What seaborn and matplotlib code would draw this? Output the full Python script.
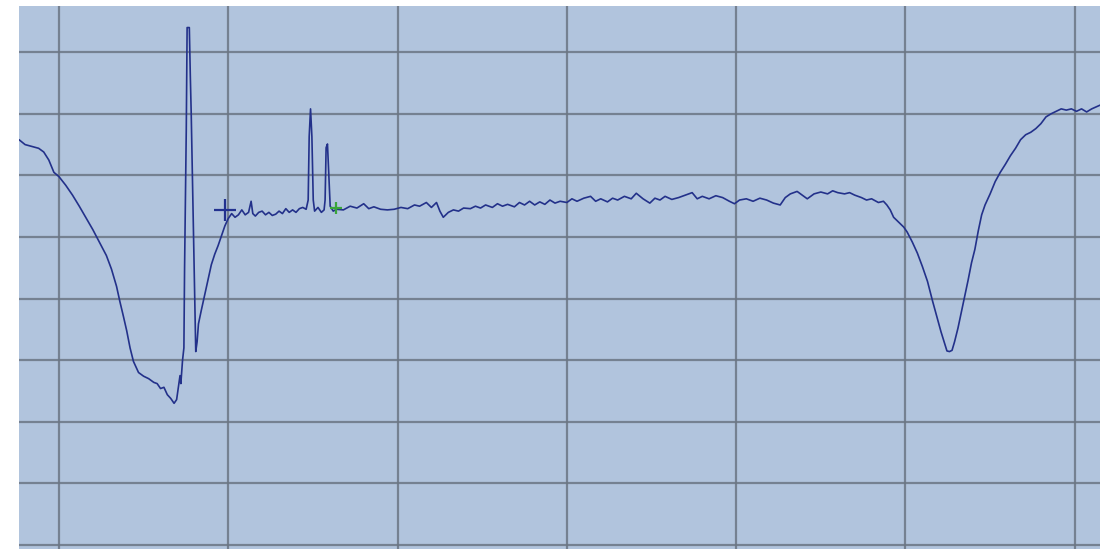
import seaborn as sns
import matplotlib.pyplot as plt
import pandas as pd

# trace, in grid units (one unit per grid cell)
trace_x = [
    -0.236, -0.20, -0.16, -0.12, -0.09, -0.06, -0.03, 0.00, 0.04, 0.08,
    0.12, 0.16, 0.20, 0.24, 0.28, 0.31, 0.34, 0.36, 0.38, 0.40,
    0.42, 0.44, 0.47, 0.50, 0.53, 0.56, 0.58, 0.60, 0.62, 0.64,
    0.66, 0.68, 0.695, 0.705, 0.715, 0.72, 0.73, 0.738, 0.742, 0.748,
    0.752, 0.757, 0.770, 0.776, 0.781, 0.790, 0.800, 0.808, 0.816, 0.824,
    0.84, 0.86, 0.88, 0.90, 0.92, 0.94, 0.96, 0.98, 1.00, 1.02,
    1.04, 1.06, 1.08, 1.10, 1.12, 1.135, 1.145, 1.16, 1.18, 1.20,
    1.22, 1.24, 1.26, 1.28, 1.30, 1.32, 1.34, 1.36, 1.38, 1.40,
    1.42, 1.44, 1.46, 1.472, 1.478, 1.486, 1.494, 1.502, 1.51, 1.53,
    1.55, 1.566, 1.572, 1.578, 1.586, 1.594, 1.602, 1.62, 1.64,
    1.68, 1.72, 1.76, 1.80, 1.83, 1.86, 1.90, 1.94, 1.98, 2.02,
    2.06, 2.10, 2.13, 2.17, 2.20, 2.23, 2.25, 2.27, 2.30, 2.33,
    2.36, 2.39, 2.43, 2.46, 2.49, 2.52, 2.56, 2.59, 2.62, 2.65,
    2.69, 2.72, 2.75, 2.78, 2.81, 2.84, 2.87, 2.90, 2.93, 2.96,
    3.00, 3.03, 3.06, 3.10, 3.14, 3.17, 3.20, 3.24, 3.27, 3.30,
    3.34, 3.38, 3.41, 3.45, 3.49, 3.52, 3.55, 3.58, 3.62, 3.66,
    3.70, 3.74, 3.77, 3.80, 3.84, 3.88, 3.92, 3.96, 3.99, 4.02,
    4.06, 4.10, 4.14, 4.18, 4.22, 4.26, 4.29, 4.32, 4.36, 4.39,
    4.42, 4.46, 4.50, 4.54, 4.57, 4.60, 4.64, 4.67, 4.70, 4.74,
    4.77, 4.80, 4.84, 4.87, 4.89, 4.91, 4.93, 4.96, 4.99, 5.01,
    5.04, 5.07, 5.10, 5.13, 5.16, 5.19, 5.21, 5.23, 5.245, 5.26,
    5.275, 5.29, 5.31, 5.33, 5.35, 5.37, 5.39, 5.41, 5.43, 5.45,
    5.47, 5.50, 5.53, 5.56, 5.59, 5.62, 5.65, 5.68, 5.71, 5.74,
    5.77, 5.80, 5.83, 5.86, 5.89, 5.92, 5.95, 5.98, 6.01, 6.04,
    6.07, 6.10, 6.149,
]
trace_y = [
    6.58, 6.50, 6.47, 6.44, 6.38, 6.25, 6.05, 5.98, 5.84, 5.68,
    5.50, 5.31, 5.12, 4.91, 4.70, 4.48, 4.20, 3.95, 3.72, 3.48,
    3.20, 2.98, 2.80, 2.74, 2.70, 2.64, 2.62, 2.54, 2.56, 2.44,
    2.38, 2.30, 2.36, 2.55, 2.75, 2.62, 3.00, 3.20, 4.50, 5.80,
    6.74, 8.40, 8.40, 7.60, 7.03, 5.71, 4.20, 3.14, 3.30, 3.59,
    3.80, 4.05, 4.30, 4.55, 4.72, 4.86, 5.02, 5.18, 5.30, 5.38,
    5.32, 5.36, 5.44, 5.36, 5.40, 5.58, 5.38, 5.34, 5.40, 5.42,
    5.36, 5.40, 5.35, 5.37, 5.42, 5.38, 5.46, 5.40, 5.44, 5.40,
    5.46, 5.48, 5.45, 5.60, 6.63, 7.08, 6.63, 5.60, 5.42, 5.48,
    5.40, 5.44, 5.60, 6.45, 6.51, 6.00, 5.50, 5.42, 5.45,
    5.44, 5.50, 5.47, 5.54, 5.46, 5.49, 5.45, 5.44, 5.45, 5.48,
    5.46, 5.52, 5.50, 5.56, 5.48, 5.56, 5.42, 5.32, 5.40, 5.44,
    5.42, 5.47, 5.46, 5.50, 5.47, 5.52, 5.48, 5.54, 5.50, 5.53,
    5.49, 5.56, 5.52, 5.58, 5.52, 5.57, 5.53, 5.60, 5.55, 5.58,
    5.56, 5.62, 5.58, 5.63, 5.66, 5.58, 5.62, 5.57, 5.63, 5.60,
    5.66, 5.62, 5.71, 5.62, 5.55, 5.63, 5.60, 5.66, 5.61, 5.64,
    5.68, 5.72, 5.62, 5.66, 5.62, 5.67, 5.64, 5.58, 5.54, 5.60,
    5.62, 5.58, 5.63, 5.60, 5.55, 5.52, 5.64, 5.70, 5.74, 5.68,
    5.62, 5.70, 5.73, 5.70, 5.75, 5.72, 5.70, 5.72, 5.68, 5.64,
    5.60, 5.62, 5.56, 5.58, 5.52, 5.44, 5.32, 5.24, 5.16, 5.08,
    4.92, 4.74, 4.52, 4.28, 3.96, 3.66, 3.46, 3.28, 3.15, 3.14,
    3.16, 3.30, 3.52, 3.78, 4.04, 4.30, 4.58, 4.80, 5.10, 5.36,
    5.52, 5.70, 5.90, 6.05, 6.18, 6.32, 6.44, 6.58, 6.66, 6.70,
    6.76, 6.84, 6.95, 7.00, 7.04, 7.08, 7.06, 7.08, 7.04, 7.08,
    7.03, 7.08, 7.14,
]

# cursor marks
cursor_x = [0.98, 1.636]
cursor_y = [5.44, 5.47]

x_ticks = [0, 1, 2, 3, 4, 5, 6]
y_ticks = [0, 1, 2, 3, 4, 5, 6, 7, 8]

trace = pd.DataFrame({"x": trace_x, "y": trace_y})

sns.set_style("white")
fig = plt.figure(figsize=(11, 5.49), dpi=100)
ax = fig.add_axes([19 / 1100, 0, 1081 / 1100, 543 / 549])
ax.set_facecolor("#b1c4dd")

sns.lineplot(data=trace, x="x", y="y", sort=False, estimator=None,
             color="#23318a", linewidth=1.2, ax=ax)
ax.plot(cursor_x[0], cursor_y[0], marker="+", markersize=16,
        markeredgewidth=1.6, color="#22318f")
ax.plot(cursor_x[1], cursor_y[1], marker="+", markersize=8,
        markeredgewidth=1.6, color="#3aa53a")

ax.set_xlim(-0.236, 6.149)
ax.set_ylim(-0.065, 8.75)
ax.set_xticks(x_ticks)
ax.set_yticks(y_ticks)
ax.grid(True, color="#6b7684", linewidth=1.6, alpha=0.85)
ax.set_axisbelow(True)
ax.tick_params(length=0, labelbottom=False, labelleft=False)
ax.set_xlabel("")
ax.set_ylabel("")
for s in ax.spines.values():
    s.set_visible(False)

plt.savefig("out.png", dpi=100)
plt.close()
